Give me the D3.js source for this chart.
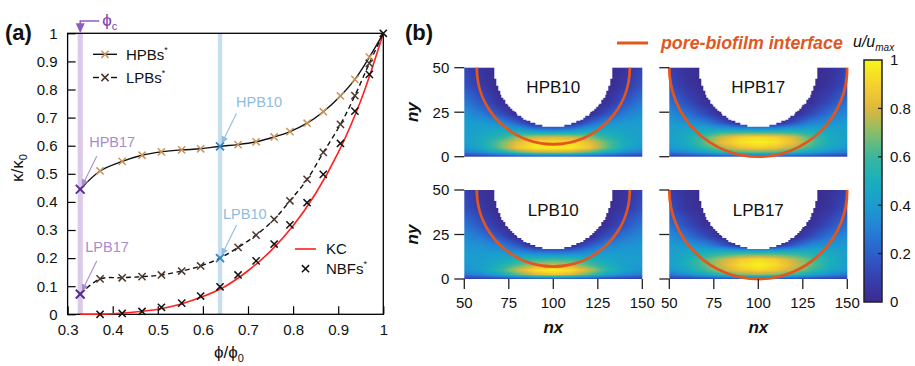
<!DOCTYPE html>
<html><head><meta charset="utf-8">
<script src="https://cdn.jsdelivr.net/npm/d3@7"></script>
<style>
html,body{margin:0;padding:0;background:#fff;}
svg{display:block;}
</style></head><body>
<svg id="chart" width="915" height="366"></svg>
<script>
// ================= DATA: panel (a) =================
const xTicksA = [0.3, 0.4, 0.5, 0.6, 0.7, 0.8, 0.9, 1];
const yTicksA = [0, 0.1, 0.2, 0.3, 0.4, 0.5, 0.6, 0.7, 0.8, 0.9, 1];
const phiC = 0.328;
const hpbPhi = [0.328, 0.372, 0.421, 0.465, 0.508, 0.553, 0.595, 0.638, 0.678, 0.718, 0.758, 0.793, 0.831, 0.867, 0.905, 0.937, 0.969, 1.0];
const hpbK   = [0.445, 0.510, 0.544, 0.566, 0.578, 0.585, 0.589, 0.598, 0.604, 0.614, 0.631, 0.650, 0.680, 0.721, 0.777, 0.836, 0.915, 1.0];
const lpbPhi = [0.328, 0.372, 0.421, 0.465, 0.508, 0.553, 0.595, 0.638, 0.678, 0.718, 0.758, 0.793, 0.831, 0.867, 0.905, 0.937, 0.969, 1.0];
const lpbK   = [0.072, 0.126, 0.130, 0.134, 0.140, 0.154, 0.172, 0.200, 0.238, 0.282, 0.338, 0.404, 0.480, 0.576, 0.676, 0.778, 0.893, 1.0];
const nbfPhi = [0.372, 0.421, 0.465, 0.508, 0.553, 0.595, 0.638, 0.678, 0.718, 0.758, 0.793, 0.831, 0.867, 0.905, 0.937, 0.969, 1.0];
const nbfK   = [0.000, 0.003, 0.010, 0.025, 0.040, 0.065, 0.098, 0.140, 0.190, 0.250, 0.318, 0.397, 0.498, 0.608, 0.723, 0.854, 1.0];
const kcPhi  = [0.328, 0.35, 0.40, 0.45, 0.50, 0.55, 0.60, 0.65, 0.70, 0.75, 0.80, 0.85, 0.90, 0.95, 1.0];
const kcK    = [0.000, 0.000, 0.002, 0.008, 0.018, 0.036, 0.063, 0.100, 0.155, 0.225, 0.315, 0.430, 0.575, 0.760, 1.0];
// highlighted simulation cases: label, series, index
const caseLabels = ["HPB10", "LPB10", "HPB17", "LPB17"];
const caseSeries = ["hpb", "lpb", "hpb", "lpb"];
const caseIndex  = [7, 7, 0, 0];

// ================= DATA: panel (b) =================
const nxTicks = [50, 75, 100, 125, 150];
const nyTicks = [0, 25, 50];
const cbTicks = [0, 0.2, 0.4, 0.6, 0.8, 1];
const gridNx = [50, 60, 70, 80, 90, 100, 110, 120, 130, 140, 150];
const gridNy = [50, 40, 30, 24, 19, 15, 11, 8, 5, 2.5, 0];
const panelNames = ["HPB10", "HPB17", "LPB10", "LPB17"];
const interfaceR = [43, 50, 43, 50];
const grainCenter = [100, 50];
const grainR = 33;
const cmapStops = ["#3b2b8e", "#3640b0", "#2d5fca", "#2580d5", "#1b9bd0", "#1aaebc", "#3ab79d", "#86be6a", "#dfb73e", "#f6d12e", "#f6f718"];

// u/umax (rows follow gridNy, columns follow gridNx; 0 inside the grain)
const uHPB10 = [
  [0.12,0.04,0,0,0,0,0,0,0,0.04,0.12],
  [0.17,0.07,0,0,0,0,0,0,0,0.07,0.17],
  [0.29,0.18,0.04,0,0,0,0,0,0.04,0.18,0.29],
  [0.37,0.29,0.16,0,0,0,0,0,0.16,0.29,0.37],
  [0.41,0.40,0.35,0.20,0,0,0,0.20,0.35,0.40,0.41],
  [0.42,0.44,0.47,0.44,0.34,0.30,0.34,0.44,0.47,0.44,0.42],
  [0.42,0.47,0.56,0.70,0.78,0.80,0.78,0.70,0.56,0.47,0.42],
  [0.41,0.49,0.66,0.84,0.93,0.95,0.93,0.84,0.66,0.49,0.41],
  [0.38,0.47,0.66,0.87,0.97,0.99,0.97,0.87,0.66,0.47,0.38],
  [0.28,0.35,0.48,0.64,0.74,0.77,0.74,0.64,0.48,0.35,0.28],
  [0.07,0.08,0.10,0.12,0.14,0.15,0.14,0.12,0.10,0.08,0.07]
];
const uHPB17 = [
  [0.10,0.03,0,0,0,0,0,0,0,0.03,0.10],
  [0.15,0.05,0,0,0,0,0,0,0,0.05,0.15],
  [0.27,0.15,0.04,0,0,0,0,0,0.04,0.15,0.27],
  [0.35,0.26,0.14,0,0,0,0,0,0.14,0.26,0.35],
  [0.40,0.37,0.31,0.17,0,0,0,0.17,0.31,0.37,0.40],
  [0.42,0.45,0.48,0.48,0.45,0.43,0.45,0.48,0.48,0.45,0.42],
  [0.42,0.49,0.62,0.79,0.90,0.93,0.90,0.79,0.62,0.49,0.42],
  [0.41,0.49,0.65,0.84,0.95,0.99,0.95,0.84,0.65,0.49,0.41],
  [0.38,0.46,0.58,0.73,0.85,0.89,0.85,0.73,0.58,0.46,0.38],
  [0.28,0.34,0.43,0.54,0.62,0.65,0.62,0.54,0.43,0.34,0.28],
  [0.07,0.08,0.10,0.12,0.13,0.14,0.13,0.12,0.10,0.08,0.07]
];
const uLPB10 = [
  [0.11,0.04,0,0,0,0,0,0,0,0.04,0.11],
  [0.16,0.06,0,0,0,0,0,0,0,0.06,0.16],
  [0.27,0.17,0.04,0,0,0,0,0,0.04,0.17,0.27],
  [0.34,0.27,0.15,0,0,0,0,0,0.15,0.27,0.34],
  [0.38,0.36,0.31,0.17,0,0,0,0.17,0.31,0.36,0.38],
  [0.40,0.40,0.39,0.35,0.28,0.26,0.28,0.35,0.39,0.40,0.40],
  [0.40,0.42,0.46,0.52,0.58,0.60,0.58,0.52,0.46,0.42,0.40],
  [0.39,0.43,0.51,0.63,0.74,0.77,0.74,0.63,0.51,0.43,0.39],
  [0.36,0.43,0.57,0.78,0.94,0.99,0.94,0.78,0.57,0.43,0.36],
  [0.28,0.34,0.46,0.64,0.80,0.86,0.80,0.64,0.46,0.34,0.28],
  [0.07,0.08,0.10,0.12,0.15,0.16,0.15,0.12,0.10,0.08,0.07]
];
const uLPB17 = [
  [0.10,0.03,0,0,0,0,0,0,0,0.03,0.10],
  [0.15,0.05,0,0,0,0,0,0,0,0.05,0.15],
  [0.27,0.15,0.04,0,0,0,0,0,0.04,0.15,0.27],
  [0.35,0.26,0.14,0,0,0,0,0,0.14,0.26,0.35],
  [0.40,0.38,0.33,0.19,0,0,0,0.19,0.33,0.38,0.40],
  [0.42,0.46,0.50,0.53,0.54,0.54,0.54,0.53,0.50,0.46,0.42],
  [0.42,0.51,0.63,0.76,0.88,0.93,0.88,0.76,0.63,0.51,0.42],
  [0.42,0.51,0.65,0.80,0.93,0.99,0.93,0.80,0.65,0.51,0.42],
  [0.38,0.47,0.60,0.75,0.87,0.92,0.87,0.75,0.60,0.47,0.38],
  [0.28,0.35,0.46,0.58,0.68,0.72,0.68,0.58,0.46,0.35,0.28],
  [0.07,0.08,0.10,0.12,0.14,0.15,0.14,0.12,0.10,0.08,0.07]
];
const uGrids = [uHPB10, uHPB17, uLPB10, uLPB17];

// ================= DRAWING =================
const FONT = '"Liberation Sans", Arial, Helvetica, sans-serif';
const svg = d3.select("#chart").attr("font-family", FONT);
const defs = svg.append("defs");

function arrowMarker(id, color) {
  defs.append("marker").attr("id", id).attr("viewBox", "0 0 10 10")
    .attr("refX", 9).attr("refY", 5).attr("markerWidth", 7).attr("markerHeight", 7)
    .attr("markerUnits", "userSpaceOnUse").attr("orient", "auto")
    .append("path").attr("d", "M0,0L10,5L0,10Z").attr("fill", color);
}
arrowMarker("arrBlue", "#8fbce0");
arrowMarker("arrPurple", "#a98ccc");

function cross(x, y, s) {
  return `M${x - s},${y - s}L${x + s},${y + s}M${x - s},${y + s}L${x + s},${y - s}`;
}

// ---------- Panel (a) ----------
const xA = d3.scaleLinear().domain([0.3, 1]).range([67.6, 383.3]);
const yA = d3.scaleLinear().domain([0, 1]).range([314.3, 33.3]);
const gA = svg.append("g");

gA.append("rect").attr("x", xA(phiC) - 2.6).attr("y", yA(1)).attr("width", 5.2)
  .attr("height", yA(0) - yA(1)).attr("fill", "#dccbe8");
gA.append("rect").attr("x", xA(hpbPhi[7]) - 2.2).attr("y", yA(1)).attr("width", 4.4)
  .attr("height", yA(0) - yA(1)).attr("fill", "#c7deef");

const axL = gA.append("g").attr("transform", `translate(${xA(0.3)},0)`)
  .call(d3.axisLeft(yA).tickValues(yTicksA).tickSize(-8).tickPadding(10).tickFormat(d3.format("")));
const axB = gA.append("g").attr("transform", `translate(0,${yA(0)})`)
  .call(d3.axisBottom(xA).tickValues(xTicksA).tickSize(-8).tickPadding(10).tickFormat(d3.format("")));
[axL, axB].forEach(a => {
  a.attr("font-size", 15).attr("font-family", FONT);
  a.select(".domain").remove();
  a.selectAll(".tick line").attr("stroke", "#000").attr("stroke-width", 1.2);
  a.selectAll(".tick text").attr("fill", "#111");
});
gA.append("rect").attr("x", xA(0.3)).attr("y", yA(1)).attr("width", xA(1) - xA(0.3))
  .attr("height", yA(0) - yA(1)).attr("fill", "none").attr("stroke", "#000").attr("stroke-width", 1.3);

const line = d3.line().x(d => xA(d[0])).y(d => yA(d[1])).curve(d3.curveCatmullRom.alpha(0.5));
gA.append("path").attr("d", line(d3.zip(kcPhi, kcK))).attr("fill", "none")
  .attr("stroke", "#ff1f1f").attr("stroke-width", 1.6);
gA.append("path").attr("d", line(d3.zip(lpbPhi, lpbK))).attr("fill", "none")
  .attr("stroke", "#111").attr("stroke-width", 1.4).attr("stroke-dasharray", "5,3.5");
gA.append("path").attr("d", line(d3.zip(hpbPhi, hpbK))).attr("fill", "none")
  .attr("stroke", "#111").attr("stroke-width", 1.4);

const skip = new Set([0, 7]);
gA.append("g").selectAll("path").data(d3.zip(hpbPhi, hpbK).filter((d, i) => !skip.has(i) && i < hpbPhi.length - 1))
  .join("path").attr("d", d => cross(xA(d[0]), yA(d[1]), 3.6)).attr("stroke", "#c8955a").attr("stroke-width", 1.5).attr("fill", "none");
gA.append("g").selectAll("path").data(d3.zip(lpbPhi, lpbK).filter((d, i) => !skip.has(i) && i < lpbPhi.length - 1))
  .join("path").attr("d", d => cross(xA(d[0]), yA(d[1]), 3.6)).attr("stroke", "#4b372d").attr("stroke-width", 1.5).attr("fill", "none");
gA.append("g").selectAll("path").data(d3.zip(nbfPhi, nbfK))
  .join("path").attr("d", d => cross(xA(d[0]), yA(d[1]), 3.6)).attr("stroke", "#111").attr("stroke-width", 1.5).attr("fill", "none");

caseLabels.forEach((lab, i) => {
  const ph = caseSeries[i] === "hpb" ? hpbPhi : lpbPhi;
  const kk = caseSeries[i] === "hpb" ? hpbK : lpbK;
  const px = xA(ph[caseIndex[i]]), py = yA(kk[caseIndex[i]]);
  const is10 = lab.endsWith("10");
  const mk = is10 ? "#2f86c4" : "#5b2b8f";
  const tc = is10 ? "#8fbce0" : "#a98ccc";
  gA.append("path").attr("d", cross(px, py, is10 ? 4 : 4.4)).attr("stroke", mk)
    .attr("stroke-width", is10 ? 1.8 : 2).attr("fill", "none");
  const tdx = is10 ? (lab[0] === "H" ? 16 : 3) : (lab[0] === "H" ? 9 : 5);
  gA.append("text").attr("x", px + tdx).attr("y", py - (is10 ? 39.5 : 42)).attr("font-size", 14.5)
    .attr("fill", tc).text(lab);
  gA.append("line").attr("x1", px + 16.5).attr("y1", py - 33).attr("x2", px + 2).attr("y2", py - 3.5)
    .attr("stroke", tc).attr("stroke-width", 1.1)
    .attr("marker-end", is10 ? "url(#arrBlue)" : "url(#arrPurple)");
});

{
  const xc = xA(phiC), yt = yA(1);
  gA.append("path").attr("d", `M${xc + 19},21L${xc},21L${xc},${yt - 8}`).attr("fill", "none")
    .attr("stroke", "#8e5cc0").attr("stroke-width", 1.5);
  gA.append("path").attr("d", `M${xc - 4.5},${yt - 10}L${xc + 4.5},${yt - 10}L${xc},${yt}Z`).attr("fill", "#8e5cc0");
  const t = gA.append("text").attr("x", xc + 22).attr("y", 26).attr("font-size", 17).attr("fill", "#7a3db0");
  t.append("tspan").text("\u03D5");
  t.append("tspan").attr("font-size", 11).attr("dy", 4).text("c");
}

{
  const g = gA.append("g");
  g.append("line").attr("x1", 93).attr("x2", 117).attr("y1", 54.3).attr("y2", 54.3).attr("stroke", "#111").attr("stroke-width", 1.4);
  g.append("path").attr("d", cross(105, 54.3, 3.6)).attr("stroke", "#c8955a").attr("stroke-width", 1.5);
  let t = g.append("text").attr("x", 126).attr("y", 59.5).attr("font-size", 15).attr("fill", "#111");
  t.append("tspan").text("HPBs"); t.append("tspan").attr("font-size", 9).attr("dy", -7).text("*");
  g.append("line").attr("x1", 93).attr("x2", 99).attr("y1", 77.5).attr("y2", 77.5).attr("stroke", "#111").attr("stroke-width", 1.4);
  g.append("line").attr("x1", 111).attr("x2", 117).attr("y1", 77.5).attr("y2", 77.5).attr("stroke", "#111").attr("stroke-width", 1.4);
  g.append("path").attr("d", cross(105, 77.5, 3.6)).attr("stroke", "#4b372d").attr("stroke-width", 1.5);
  t = g.append("text").attr("x", 126).attr("y", 82.7).attr("font-size", 15).attr("fill", "#111");
  t.append("tspan").text("LPBs"); t.append("tspan").attr("font-size", 9).attr("dy", -7).text("*");

  g.append("line").attr("x1", 295).attr("x2", 316).attr("y1", 249).attr("y2", 249).attr("stroke", "#ff1f1f").attr("stroke-width", 1.6);
  g.append("text").attr("x", 326).attr("y", 254.3).attr("font-size", 15).attr("fill", "#111").text("KC");
  g.append("path").attr("d", cross(305.5, 268.7, 3.6)).attr("stroke", "#111").attr("stroke-width", 1.5);
  t = g.append("text").attr("x", 326).attr("y", 274).attr("font-size", 15).attr("fill", "#111");
  t.append("tspan").text("NBFs"); t.append("tspan").attr("font-size", 9).attr("dy", -7).text("*");
}

{
  let t = gA.append("text").attr("transform", "translate(23,168) rotate(-90)").attr("text-anchor", "middle")
    .attr("font-size", 17).attr("fill", "#111");
  t.append("tspan").text("κ/κ"); t.append("tspan").attr("font-size", 11).attr("dy", 4).text("0");
  t = gA.append("text").attr("x", 229).attr("y", 358).attr("text-anchor", "middle").attr("font-size", 17).attr("fill", "#111");
  t.append("tspan").text("\u03D5/\u03D5"); t.append("tspan").attr("font-size", 11).attr("dy", 4).text("0");
  svg.append("text").attr("x", 5).attr("y", 40).attr("font-size", 22).attr("font-weight", "bold").attr("fill", "#111").text("(a)");
}

// ---------- Panel (b) ----------
const colorU = d3.scaleLinear()
  .domain(cmapStops.map((c, i) => i / (cmapStops.length - 1)))
  .range(cmapStops).interpolate(d3.interpolateRgb).clamp(true);

const nyAsc = gridNy.slice().reverse();
function sampleGrid(grid, nx, ny) {
  let ci = Math.min(Math.max(d3.bisectRight(gridNx, nx) - 1, 0), gridNx.length - 2);
  let ri = Math.min(Math.max(d3.bisectRight(nyAsc, ny) - 1, 0), nyAsc.length - 2);
  const tx = Math.min(Math.max((nx - gridNx[ci]) / (gridNx[ci + 1] - gridNx[ci]), 0), 1);
  const ty = Math.min(Math.max((ny - nyAsc[ri]) / (nyAsc[ri + 1] - nyAsc[ri]), 0), 1);
  const R = gridNy.length - 1;
  const v00 = grid[R - ri][ci], v10 = grid[R - ri][ci + 1];
  const v01 = grid[R - ri - 1][ci], v11 = grid[R - ri - 1][ci + 1];
  return (v00 * (1 - tx) + v10 * tx) * (1 - ty) + (v01 * (1 - tx) + v11 * tx) * ty;
}
function fieldURL(grid, xs, ys) {
  const w = Math.round(xs(150) - xs(50)), h = Math.round(ys(0) - ys(50));
  const c = document.createElement("canvas"); c.width = w; c.height = h;
  const ctx = c.getContext("2d");
  const img = ctx.createImageData(w, h);
  for (let py = 0; py < h; py++) {
    for (let px = 0; px < w; px++) {
      const nx = xs.invert(xs(50) + px + 0.5), ny = ys.invert(ys(50) + py + 0.5);
      const cx = Math.floor(nx) + 0.5, cy = Math.floor(ny) + 0.5;
      const inside = (cx - grainCenter[0]) ** 2 + (cy - grainCenter[1]) ** 2 < grainR * grainR;
      const i = 4 * (py * w + px);
      if (inside) { img.data[i + 3] = 0; continue; }
      const col = d3.rgb(colorU(sampleGrid(grid, nx, ny)));
      img.data[i] = col.r; img.data[i + 1] = col.g; img.data[i + 2] = col.b; img.data[i + 3] = 255;
    }
  }
  ctx.putImageData(img, 0, 0);
  return { url: c.toDataURL(), w, h };
}

const colX = [[464.3, 642.3], [669.3, 847.3]];
const rowY = [[156.7, 67.7], [279, 190]];

panelNames.forEach((name, i) => {
  const col = i % 2, row = Math.floor(i / 2);
  const xs = d3.scaleLinear().domain([50, 150]).range(colX[col]);
  const ys = d3.scaleLinear().domain([0, 50]).range(rowY[row]);
  const g = svg.append("g");
  const cid2 = "clipw" + i;
  defs.append("clipPath").attr("id", cid2).append("rect")
    .attr("x", xs(50) - 1.5).attr("y", ys(50)).attr("width", xs(150) - xs(50) + 3).attr("height", ys(0) - ys(50) + 1.8);
  const f = fieldURL(uGrids[i], xs, ys);
  g.append("image").attr("href", f.url).attr("preserveAspectRatio", "none")
    .attr("x", xs(50)).attr("y", ys(50)).attr("width", f.w).attr("height", f.h);
  g.append("circle").attr("cx", xs(grainCenter[0])).attr("cy", ys(grainCenter[1]))
    .attr("r", xs(grainCenter[0] + interfaceR[i]) - xs(grainCenter[0])).attr("fill", "none")
    .attr("stroke", "#e4561e").attr("stroke-width", 2.8).attr("clip-path", `url(#${cid2})`);
  g.append("text").attr("x", xs(100)).attr("y", ys(50) + 25.5).attr("text-anchor", "middle")
    .attr("font-size", 17).attr("fill", "#111").text(name);
  nyTicks.forEach(v => {
    g.append("line").attr("x1", xs(50) - 10).attr("x2", xs(50)).attr("y1", ys(v)).attr("y2", ys(v))
      .attr("stroke", "#222").attr("stroke-width", 1.3);
    if (col === 0) g.append("text").attr("x", xs(50) - 15).attr("y", ys(v)).attr("dy", "0.36em")
      .attr("text-anchor", "end").attr("font-size", 15).attr("fill", "#111").text(v);
  });
  if (col === 0) {
    g.append("text").attr("transform", `translate(${xs(50) - 46},${(ys(0) + ys(50)) / 2}) rotate(-90)`)
      .attr("text-anchor", "middle").attr("font-size", 17).attr("font-weight", "bold")
      .attr("font-style", "italic").attr("fill", "#111").text("ny");
  }
  if (row === 1) {
    nxTicks.forEach(v => {
      g.append("line").attr("x1", xs(v)).attr("x2", xs(v)).attr("y1", ys(0)).attr("y2", ys(0) + 10)
        .attr("stroke", "#222").attr("stroke-width", 1.3);
      g.append("text").attr("x", xs(v)).attr("y", ys(0) + 28.5).attr("text-anchor", "middle")
        .attr("font-size", 15).attr("fill", "#111").text(v);
    });
    g.append("text").attr("x", xs(100)).attr("y", ys(0) + 54).attr("text-anchor", "middle")
      .attr("font-size", 17).attr("font-weight", "bold").attr("font-style", "italic").attr("fill", "#111").text("nx");
  }
});

{
  const yCb = d3.scaleLinear().domain([0, 1]).range([302, 60]);
  const grad = defs.append("linearGradient").attr("id", "cbGrad").attr("x1", 0).attr("y1", 1).attr("x2", 0).attr("y2", 0);
  cmapStops.forEach((c, i) => grad.append("stop").attr("offset", i / (cmapStops.length - 1)).attr("stop-color", c));
  const g = svg.append("g");
  g.append("rect").attr("x", 864).attr("y", yCb(1)).attr("width", 18).attr("height", yCb(0) - yCb(1))
    .attr("fill", "url(#cbGrad)").attr("stroke", "#222").attr("stroke-width", 1.5);
  cbTicks.forEach(v => {
    if (v > 0 && v < 1) g.append("line").attr("x1", 878).attr("x2", 882).attr("y1", yCb(v)).attr("y2", yCb(v))
      .attr("stroke", "#222").attr("stroke-width", 1.3);
    g.append("text").attr("x", 890).attr("y", yCb(v)).attr("dy", "0.36em").attr("font-size", 15)
      .attr("fill", "#111").text(d3.format("")(v));
  });
  const t = g.append("text").attr("x", 853).attr("y", 47).attr("font-size", 16).attr("font-style", "italic").attr("fill", "#111");
  t.append("tspan").text("u/u"); t.append("tspan").attr("font-size", 10).attr("dy", 4).text("max");
}

svg.append("line").attr("x1", 617).attr("x2", 648).attr("y1", 43).attr("y2", 43).attr("stroke", "#e0581f").attr("stroke-width", 3);
svg.append("text").attr("x", 661).attr("y", 49).attr("font-size", 17.8).attr("font-weight", "bold")
  .attr("font-style", "italic").attr("fill", "#e0581f").text("pore-biofilm interface");
svg.append("text").attr("x", 405).attr("y", 40).attr("font-size", 22).attr("font-weight", "bold").attr("fill", "#111").text("(b)");
</script>
</body></html>
